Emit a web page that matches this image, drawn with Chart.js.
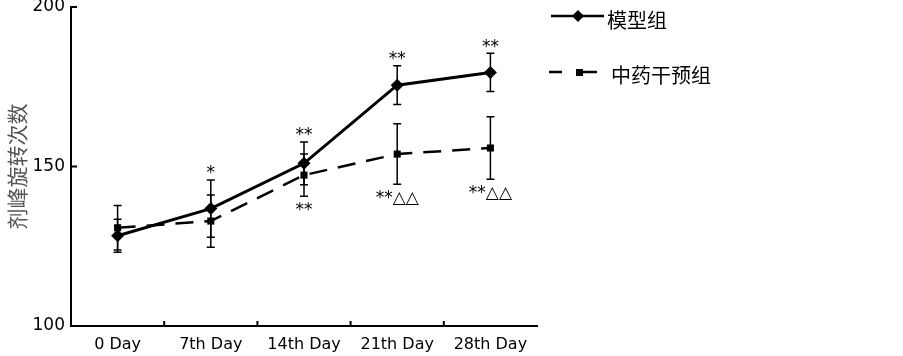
<!DOCTYPE html>
<html>
<head>
<meta charset="utf-8">
<title>剂峰旋转次数</title>
<script src="https://cdn.jsdelivr.net/npm/chart.js@4/dist/chart.umd.min.js"></script>
<style>
	html, body { margin: 0; padding: 0; background: #fff; }
	#wrap { width: 903px; height: 356px; }
</style>
</head>
<body>
<div id="wrap"><canvas id="rotation-chartcanvas"></canvas></div>
<script>
"use strict";

// data
let days = ["0 Day", "7th Day", "14th Day", "21th Day", "28th Day"];
let modelVals = [128.3, 136.8, 151.0, 175.5, 179.5];
let modelErr = [5.2, 9.0, 6.7, 6.1, 6.0];
let herbVals = [130.8, 132.9, 147.3, 153.9, 155.8];
let herbErr = [7.0, 8.2, 6.6, 9.5, 9.8];
let modelMarks = ["", "*", "**", "**", "**"];
let herbMarks = ["", "", "**", "**△△", "**△△"];
let yTicks = [100, 150, 200];
let seriesNames = ["模型组", "中药干预组"];

let dash = [18, 11];

// error bars, inward ticks, significance marks and the legend
let extras = {
	id : "extras",
	beforeDatasetsDraw : function(chart) {
		let ctx = chart.ctx;
		let x = chart.scales.x;
		let y = chart.scales.y;
		let sets = [[modelVals, modelErr], [herbVals, herbErr]];
		ctx.save();
		ctx.strokeStyle = "#000";
		ctx.lineWidth = 1.5;
		sets.forEach(function(s) {
			for (let i = 0; i < s[0].length; i++) {
				let px = x.getPixelForValue(i);
				let top = y.getPixelForValue(s[0][i] + s[1][i]);
				let bot = y.getPixelForValue(s[0][i] - s[1][i]);
				ctx.beginPath();
				ctx.moveTo(px, top); ctx.lineTo(px, bot);
				ctx.moveTo(px - 4, top); ctx.lineTo(px + 4, top);
				ctx.moveTo(px - 4, bot); ctx.lineTo(px + 4, bot);
				ctx.stroke();
			}
		});
		ctx.restore();
	},
	afterDatasetsDraw : function(chart) {
		let ctx = chart.ctx;
		let x = chart.scales.x;
		let y = chart.scales.y;
		let area = chart.chartArea;
		ctx.save();
		ctx.strokeStyle = "#000";
		ctx.lineWidth = 2;
		// y ticks point into the plot
		yTicks.forEach(function(v) {
			if (v == y.min) return;
			let py = y.getPixelForValue(v);
			ctx.beginPath();
			ctx.moveTo(area.left, py); ctx.lineTo(area.left + 6, py);
			ctx.stroke();
		});
		// x ticks between categories
		for (let i = 1; i < days.length; i++) {
			let px = (x.getPixelForValue(i - 1) + x.getPixelForValue(i)) / 2;
			ctx.beginPath();
			ctx.moveTo(px, area.bottom); ctx.lineTo(px, area.bottom - 5);
			ctx.stroke();
		}

		// marks over / under the error bars
		ctx.fillStyle = "#000";
		ctx.textAlign = "center";
		ctx.textBaseline = "middle";
		ctx.font = "17px 'DejaVu Sans'";
		for (let i = 0; i < days.length; i++) {
			let px = x.getPixelForValue(i);
			if (modelMarks[i]) {
				let top = y.getPixelForValue(modelVals[i] + modelErr[i]);
				ctx.fillText(modelMarks[i], px, top - 6);
			}
			if (herbMarks[i]) {
				let bot = y.getPixelForValue(herbVals[i] - herbErr[i]);
				ctx.fillText(herbMarks[i], px, bot + 14);
			}
		}

		// legend
		ctx.lineWidth = 2.5;
		ctx.beginPath();
		ctx.moveTo(551, 16); ctx.lineTo(604, 16);
		ctx.stroke();
		ctx.beginPath();
		ctx.moveTo(578, 10); ctx.lineTo(584, 16); ctx.lineTo(578, 22); ctx.lineTo(572, 16);
		ctx.closePath();
		ctx.fill();
		ctx.beginPath();
		ctx.moveTo(549, 72); ctx.lineTo(562, 72);
		ctx.moveTo(583, 72); ctx.lineTo(597, 72);
		ctx.stroke();
		ctx.fillRect(576, 69, 7, 7);
		ctx.textAlign = "left";
		ctx.font = "20px 'Noto Sans CJK SC'";
		ctx.fillText(seriesNames[0], 607, 20);
		ctx.fillText(seriesNames[1], 611, 75);
		ctx.restore();
	}
};

let rotationCtx = document.getElementById("rotation-chartcanvas");

let rotationData = {
	labels : days,
	datasets : [
		{
			label : seriesNames[0],
			data : modelVals,
			borderColor : "#000",
			backgroundColor : "#000",
			borderWidth : 3,
			pointStyle : "rectRot",
			pointRadius : 6.5,
			pointBorderWidth : 0,
			tension : 0,
			fill : false
		},
		{
			label : seriesNames[1],
			data : herbVals,
			borderColor : "#000",
			backgroundColor : "#000",
			borderWidth : 2.5,
			borderDash : dash,
			pointStyle : "rect",
			pointRadius : 5,
			pointBorderWidth : 0,
			tension : 0,
			fill : false
		}
	]
};

let rotationOptions = {
	responsive : true,
	maintainAspectRatio : false,
	animation : false,
	layout : {
		padding : { left : 0, right : 366, top : 7, bottom : 0 }
	},
	plugins : {
		legend : { display : false },
		tooltip : { enabled : false }
	},
	scales : {
		x : {
			offset : true,
			afterFit : function(scale) {
				scale.height = 30;
			},
			grid : { display : false, drawTicks : false },
			border : { display : true, color : "#000", width : 2 },
			ticks : {
				color : "#000",
				padding : 9,
				maxRotation : 0,
				font : { family : "'DejaVu Sans'", size : 16 }
			}
		},
		y : {
			min : 100,
			max : 200,
			afterBuildTicks : function(scale) {
				scale.ticks = yTicks.map(function(v) { return { value : v }; });
			},
			afterFit : function(scale) {
				scale.width = 71;
				// let the end labels hang over the plot edges
				scale.paddingTop = 0;
				scale.paddingBottom = 0;
			},
			grid : { display : false, drawTicks : false },
			border : { display : true, color : "#000", width : 2 },
			ticks : {
				color : "#000",
				padding : 6,
				font : { family : "'DejaVu Sans'", size : 17, lineHeight : 1 }
			},
			title : {
				display : true,
				text : "剂峰旋转次数",
				color : "#555",
				padding : { top : 4, bottom : 0 },
				font : { family : "'Noto Sans CJK SC'", size : 21, weight : "normal" }
			}
		}
	}
};

let rotationChart = new Chart(rotationCtx, {
	type : "line",
	data : rotationData,
	options : rotationOptions,
	plugins : [extras]
});
</script>
</body>
</html>
